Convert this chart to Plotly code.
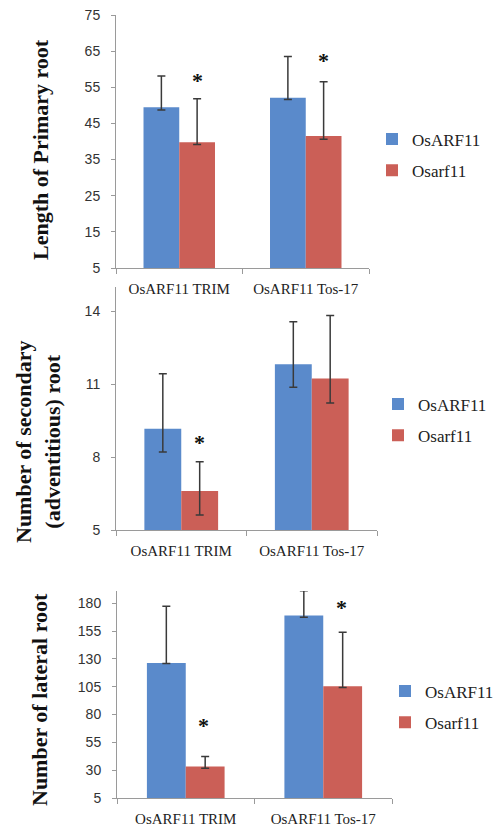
import plotly.graph_objects as go

categories = ["OsARF11 TRIM", "OsARF11 Tos-17"]
series_names = ["OsARF11", "Osarf11"]

# Panel 1: Length of primary root
p1_wt = [49.5, 52.1]
p1_wt_up = [8.6, 11.4]
p1_wt_dn = [0.8, 0.5]
p1_mut = [39.8, 41.5]
p1_mut_up = [12.0, 15.0]
p1_mut_dn = [0.6, 0.9]

# Panel 2: Number of secondary (adventitious) root
p2_wt = [9.17, 11.82]
p2_wt_up = [2.26, 1.75]
p2_wt_dn = [0.96, 0.95]
p2_mut = [6.6, 11.23]
p2_mut_up = [1.21, 2.6]
p2_mut_dn = [0.98, 1.0]

# Panel 3: Number of lateral root
p3_wt = [126.3, 169.0]
p3_wt_up = [51.0, 22.3]
p3_wt_dn = [0.5, 1.5]
p3_mut = [33.3, 105.4]
p3_mut_up = [9.0, 48.6]
p3_mut_dn = [1.5, 1.0]

BLUE = "#5A8ACB"
RED = "#CB5F57"
W, H = 504, 829
SERIF = "Liberation Serif, Times New Roman, serif"

def px(x):
    return x / W

def py(y):
    return 1 - y / H

fig = go.Figure()

panels = [
    dict(wt=p1_wt, wtu=p1_wt_up, wtd=p1_wt_dn, mu=p1_mut, muu=p1_mut_up, mud=p1_mut_dn,
         xd=[116, 369], yd=[15, 268], rng=[5, 75], dtick=10, legend="legend"),
    dict(wt=p2_wt, wtu=p2_wt_up, wtd=p2_wt_dn, mu=p2_mut, muu=p2_mut_up, mud=p2_mut_dn,
         xd=[116, 377], yd=[287, 530], rng=[5, 15], dtick=3, legend="legend2"),
    dict(wt=p3_wt, wtu=p3_wt_up, wtd=p3_wt_dn, mu=p3_mut, muu=p3_mut_up, mud=p3_mut_dn,
         xd=[117, 392], yd=[591, 798], rng=[5, 191], dtick=25, legend="legend3"),
]

err_style = dict(type="data", symmetric=False, color="#3a3a3a", thickness=1.5, width=4)

for i, p in enumerate(panels):
    sfx = "" if i == 0 else str(i + 1)
    for name, vals, up, dn, col, grp in [
        (series_names[0], p["wt"], p["wtu"], p["wtd"], BLUE, "a"),
        (series_names[1], p["mu"], p["muu"], p["mud"], RED, "b"),
    ]:
        fig.add_trace(go.Bar(
            x=categories, y=vals, name=name, marker=dict(color=col, line=dict(width=0)),
            error_y=dict(array=up, arrayminus=dn, **err_style),
            xaxis="x" + sfx, yaxis="y" + sfx, legend=p["legend"], legendgroup=grp + sfx,
        ))
    fig.layout["xaxis" + sfx] = dict(
        domain=[px(p["xd"][0]), px(p["xd"][1])], anchor="y" + sfx,
        showline=True, linecolor="#9a9a9a", linewidth=1,
        ticks="outside", tickson="boundaries", ticklen=5, tickcolor="#9a9a9a",
        ticklabelstandoff=7,
        tickfont=dict(family=SERIF, size=15, color="#222"),
        showgrid=False, zeroline=False, fixedrange=True, automargin=False,
    )
    fig.layout["yaxis" + sfx] = dict(
        domain=[py(p["yd"][1]), py(p["yd"][0])], anchor="x" + sfx,
        range=p["rng"], tick0=5, dtick=p["dtick"],
        showline=True, linecolor="#9a9a9a", linewidth=1,
        ticks="outside", ticklen=4, tickcolor="#9a9a9a", ticklabelstandoff=8,
        tickfont=dict(family="Liberation Sans, Arial, sans-serif", size=14, color="#333"),
        showgrid=False, zeroline=False, fixedrange=True, automargin=False,
    )

fig.update_layout(
    width=W, height=H, margin=dict(l=0, r=0, t=0, b=0, pad=0, autoexpand=False),
    paper_bgcolor="white", plot_bgcolor="white",
    font=dict(family=SERIF, color="#222"),
    barmode="group", bargap=0.435, bargroupgap=0,
    showlegend=True,
)

leg_common = dict(font=dict(family=SERIF, size=17, color="#222"),
                  bgcolor="rgba(0,0,0,0)", tracegroupgap=6, itemwidth=30,
                  xanchor="left", yanchor="middle")
fig.update_layout(
    legend=dict(x=px(372), y=py(155), **leg_common),
    legend2=dict(x=px(378), y=py(420), **leg_common),
    legend3=dict(x=px(385), y=py(707), **leg_common),
)

annotations = []
title_font = dict(family=SERIF, size=22, color="#111")
for text, xx, yy in [
    ("<b>Length of Primary root</b>", 40, 150),
    ("<b>Number of secondary<br>(adventitious) root</b>", 38, 442),
    ("<b>Number of lateral root</b>", 39, 700),
]:
    annotations.append(dict(text=text, x=px(xx), y=py(yy), xref="paper", yref="paper",
                            xanchor="center", yanchor="middle", textangle=-90,
                            showarrow=False, font=title_font))

star_font = dict(family=SERIF, size=22, color="#111")
# stars: (axis suffix, category, y value above mutant bar)
stars = [
    ("", categories[0], p1_mut[0] + p1_mut_up[0] + 5.0),
    ("", categories[1], p1_mut[1] + p1_mut_up[1] + 5.8),
    ("2", categories[0], p2_mut[0] + p2_mut_up[0] + 0.8),
    ("3", categories[0], p3_mut[0] + p3_mut_up[0] + 28),
    ("3", categories[1], p3_mut[1] + p3_mut_up[1] + 22),
]
for sfx, cat, yv in stars:
    annotations.append(dict(text="<b>*</b>", x=cat, y=yv, xref="x" + sfx, yref="y" + sfx,
                            xshift=18, showarrow=False, font=star_font))

fig.update_layout(annotations=annotations)

fig.write_html("out.html")
